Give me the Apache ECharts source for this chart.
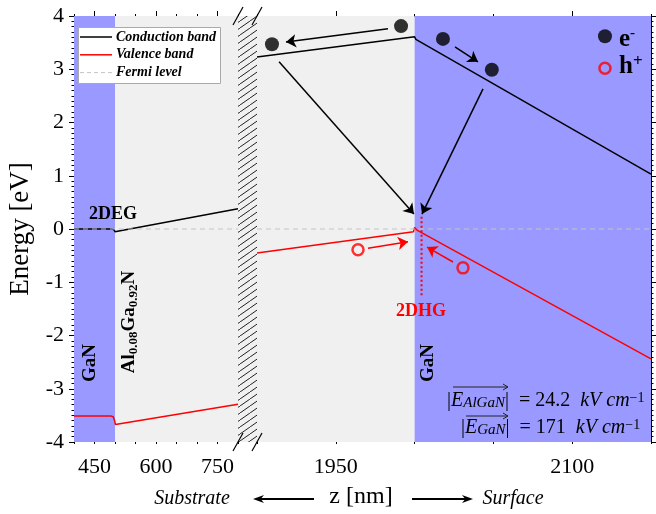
<!DOCTYPE html>
<html><head><meta charset="utf-8">
<script src="https://cdn.jsdelivr.net/npm/echarts@6/dist/echarts.min.js"></script>
<style>html,body{margin:0;padding:0;background:#fff}#c{width:656px;height:514px}</style>
</head><body><div id="c"></div>
<script>
// ---- data (z in nm, E in eV) ----
const leftRegions = [[400, 500, 'GaN'], [500, 800, 'AlGaN']];
const rightRegions = [[1900, 2000, 'AlGaN'], [2000, 2150, 'GaN']];
const condLeft = [[400, 0], [490, 0], [497, -0.01], [500, -0.05], [503, -0.03], [800, 0.38]];
const valLeft = [[400, -3.51], [490, -3.51], [496, -3.53], [499, -3.6], [501, -3.67], [800, -3.29]];
const fermiLeft = [[400, 0], [800, 0]];
const condRight = [[1900, 3.23], [2000, 3.61], [2000.8, 3.56], [2150, 1.03]];
const valRight = [[1900, -0.45], [1999.3, -0.05], [2000, 0.03], [2001.5, -0.02], [2150, -2.44]];
const fermiRight = [[1900, 0], [2150, 0]];
const dhgLine = [[2004.4, 0.23], [2004.4, -1.25]];
const electrons = [[1909.5, 3.47], [1991.4, 3.81], [2018, 3.57], [2049, 2.99]];
const holes = [[1964.1, -0.39], [2030.7, -0.73]];
const electronArrows = [
  [[1983.1, 3.76], [1918.4, 3.51]],
  [[2025.6, 3.42], [2040.2, 3.14]],
  [[1914, 3.14], [1999.6, 0.28]],
  [[2043.4, 2.63], [2004.7, 0.28]]
];
const holeArrows = [
  [[1970.4, -0.36], [1995.8, -0.24]],
  [[2024.4, -0.62], [2007.9, -0.34]]
];
const carrierKey = [[2120.8, 3.62], [2120.8, 3.02]];
const leftMajorTicks = [450, 600, 750];
const rightMajorTicks = [1950, 2100];
const legendNames = ['Conduction band', 'Valence band', 'Fermi level'];
const fieldAlGaN = '24.2';
const fieldGaN = '171';

// ---- styling ----
const SERIF = "'Liberation Serif','Times New Roman',serif";
const regionColor = { GaN: '#9999ff', AlGaN: '#f0f0f0' };
const GL = { left: 74, top: 16, width: 164, height: 426 };
const GR = { left: 257, top: 16, width: 394, height: 426 };
const FERMI = '#c4c4c4';

function hatchCanvas() {
  const c = document.createElement('canvas');
  c.width = 10; c.height = 7;
  const g = c.getContext('2d');
  g.fillStyle = '#f0f0f0'; g.fillRect(0, 0, 10, 7);
  g.strokeStyle = '#222'; g.lineWidth = 1;
  g.beginPath();
  g.moveTo(0, 7); g.lineTo(10, 0);
  g.moveTo(-10, 7); g.lineTo(0, 0);
  g.moveTo(10, 7); g.lineTo(20, 0);
  g.stroke();
  return c;
}

function xAxes(gi, min, max, major) {
  const common = { gridIndex: gi, type: 'value', min: min, max: max, splitLine: { show: false } };
  const line = { show: true, lineStyle: { color: '#000', width: 1 } };
  return [
    Object.assign({}, common, { position: 'bottom', axisLine: line,
      axisTick: { show: true, customValues: major, length: 5, lineStyle: { color: '#000' } },
      axisLabel: { show: true, customValues: major, formatter: v => String(v), fontFamily: SERIF, fontSize: 22, color: '#000', margin: 14 } }),
    Object.assign({}, common, { position: 'bottom', interval: 50, axisLine: { show: false },
      axisTick: { show: true, length: 2, lineStyle: { color: '#000' } }, axisLabel: { show: false } }),
    Object.assign({}, common, { position: 'top', axisLine: line,
      axisTick: { show: true, customValues: major, length: 5, lineStyle: { color: '#000' } },
      axisLabel: { show: false } }),
    Object.assign({}, common, { position: 'top', interval: 50, axisLine: { show: false },
      axisTick: { show: true, length: 2, lineStyle: { color: '#000' } }, axisLabel: { show: false } })
  ];
}

function regionArea(regs) {
  return {
    silent: true,
    data: regs.map(r => [{ xAxis: r[0], itemStyle: { color: regionColor[r[2]] } }, { xAxis: r[1] }])
  };
}

const bandLine = (name, data, xi, yi, color, extra) => Object.assign({
  name: name, type: 'line', xAxisIndex: xi, yAxisIndex: yi, data: data,
  symbol: 'none', showSymbol: false, z: 3, animation: false,
  lineStyle: { color: color, width: 1.5 }, itemStyle: { color: color }
}, extra || {});

const fermiStyle = { lineStyle: { color: FERMI, width: 1, type: [5, 4] }, itemStyle: { color: FERMI }, z: 4 };

const subRich = {
  b: { fontFamily: SERIF, fontWeight: 'bold', fontSize: 19, lineHeight: 22, color: '#000' },
  s: { fontFamily: SERIF, fontWeight: 'bold', fontSize: 13, lineHeight: 12, verticalAlign: 'bottom', color: '#000' }
};

function txt(x, y, text, o) {
  o = o || {};
  return {
    type: 'text', x: x, y: y, rotation: o.rot || 0, z: 100,
    style: Object.assign({
      text: text, fill: o.color || '#000', fontFamily: SERIF,
      fontSize: o.size || 18, fontWeight: o.weight || 'normal', fontStyle: o.style || 'normal',
      align: o.align || 'center', verticalAlign: 'middle'
    }, o.rich ? { rich: o.rich } : {})
  };
}
function arrowG(x1, y1, x2, y2, w) {
  const dir = Math.sign(x2 - x1);
  const hl = 11, hw = 4;
  return [
    { type: 'line', z: 100, shape: { x1: x1, y1: y1, x2: x2 - dir * hl * 0.6, y2: y2 }, style: { stroke: '#000', lineWidth: w || 2 } },
    { type: 'polygon', z: 100, shape: { points: [[x2, y2], [x2 - dir * hl, y2 - hw], [x2 - dir * hl * 0.7, y2], [x2 - dir * hl, y2 + hw]] }, style: { fill: '#000' } }
  ];
}
function vecArrow(x1, x2, y) {
  return [
    { type: 'line', z: 100, shape: { x1: x1, y1: y, x2: x2, y2: y }, style: { stroke: '#222', lineWidth: 1 } },
    { type: 'polyline', z: 100, shape: { points: [[x2 - 5, y - 3], [x2, y], [x2 - 5, y + 3]] }, style: { stroke: '#222', lineWidth: 1, fill: null } }
  ];
}
function slash(x, y) {
  return { type: 'line', z: 101, shape: { x1: x - 5, y1: y + 9, x2: x + 5, y2: y - 9 }, style: { stroke: '#000', lineWidth: 1.2 } };
}

// legend box drawn by hand
function legendBox() {
  const els = [{ type: 'rect', z: 90, shape: { x: 78.5, y: 27.5, width: 142, height: 56 },
    style: { fill: '#fff', stroke: '#aaa', lineWidth: 1 } }];
  const cols = ['#000', '#ff0000', FERMI];
  legendNames.forEach((n, i) => {
    const y = 37 + i * 17.8;
    els.push({ type: 'line', z: 91, shape: { x1: 80, y1: y, x2: 112, y2: y },
      style: { stroke: cols[i], lineWidth: i === 2 ? 1 : 1.5, lineDash: i === 2 ? [4, 3] : null } });
    els.push({ type: 'text', z: 91, x: 116, y: y, style: { text: n, fill: '#000', fontFamily: SERIF,
      fontSize: 14, fontWeight: 'bold', fontStyle: 'italic', align: 'left', verticalAlign: 'middle' } });
  });
  return els;
}

const mathRich = {
  n: { fontFamily: SERIF, fontSize: 20, color: '#222' },
  i: { fontFamily: SERIF, fontSize: 20, fontStyle: 'italic', color: '#222' },
  sub: { fontFamily: SERIF, fontSize: 15, fontStyle: 'italic', color: '#222', verticalAlign: 'bottom', lineHeight: 14 },
  sup: { fontFamily: SERIF, fontSize: 14, color: '#222', verticalAlign: 'top', lineHeight: 12 }
};

const chart = echarts.init(document.getElementById('c'), null, { renderer: 'canvas' });

const graphic = [
  { type: 'rect', z: 50, shape: { x: GL.left + GL.width, y: GL.top, width: GR.left - GL.left - GL.width, height: GL.height },
    style: { fill: { image: hatchCanvas(), repeat: 'repeat' } } },
  slash(238, 16), slash(257, 16), slash(238, 442), slash(257, 442),
  txt(113, 214, '2DEG', { weight: 'bold', size: 18 }),
  txt(90, 363, 'GaN', { weight: 'bold', size: 19, rot: Math.PI / 2 }),
  txt(428, 363, 'GaN', { weight: 'bold', size: 19, rot: Math.PI / 2 }),
  txt(129, 322, '{b|Al}{s|0.08}{b|Ga}{s|0.92}{b|N}', { rot: Math.PI / 2, rich: subRich, weight: 'bold', size: 19 }),
  txt(421, 311, '2DHG', { weight: 'bold', size: 18, color: '#ff0000' }),
  txt(619, 40, '{m|e}{p|-}', { align: 'left', rich: {
    m: { fontFamily: SERIF, fontWeight: 'bold', fontSize: 25, lineHeight: 28, color: '#000' },
    p: { fontFamily: SERIF, fontWeight: 'bold', fontSize: 15, lineHeight: 14, verticalAlign: 'top', color: '#000' } } }),
  txt(619, 67, '{m|h}{p|+}', { align: 'left', rich: {
    m: { fontFamily: SERIF, fontWeight: 'bold', fontSize: 25, lineHeight: 28, color: '#ff0000' },
    p: { fontFamily: SERIF, fontWeight: 'bold', fontSize: 17, lineHeight: 14, verticalAlign: 'top', color: '#ff0000' } } }),
  txt(447, 401, '{n||}{i|E}{sub|AlGaN}{n||}{n|  = ' + fieldAlGaN + '  }{i|kV cm}{sup|\u22121}', { align: 'left', rich: mathRich }),
  txt(461, 428, '{n||}{i|E}{sub|GaN}{n||}{n|  = ' + fieldGaN + '  }{i|kV cm}{sup|\u22121}', { align: 'left', rich: mathRich }),
  txt(192, 499, 'Substrate', { style: 'italic', size: 20 }),
  txt(513, 499, 'Surface', { style: 'italic', size: 20 }),
  txt(361, 497, 'z [nm]', { size: 24 })
].concat(arrowG(314, 499, 253, 499), arrowG(412, 499, 473, 499), legendBox());

const option = {
  animation: false,
  backgroundColor: '#fff',
  grid: [
    Object.assign({}, GL, { containLabel: false }),
    Object.assign({}, GR, { containLabel: false })
  ],
  xAxis: xAxes(0, 400, 800, leftMajorTicks).concat(xAxes(1, 1900, 2150, rightMajorTicks)),
  yAxis: [
    { gridIndex: 0, type: 'value', min: -4, max: 4, interval: 1, position: 'left',
      axisLine: { show: true, lineStyle: { color: '#000' } },
      axisTick: { show: true, length: 5, lineStyle: { color: '#000' } },
      minorTick: { show: true, splitNumber: 10, length: 2.5, lineStyle: { color: '#000' } },
      splitLine: { show: false },
      axisLabel: { fontFamily: SERIF, fontSize: 22, color: '#000', margin: 10 },
      name: 'Energy [eV]', nameLocation: 'middle', nameGap: 40, nameRotate: 90,
      nameTextStyle: { fontFamily: SERIF, fontSize: 27, color: '#000' } },
    { gridIndex: 1, type: 'value', min: -4, max: 4, interval: 1, position: 'right',
      axisLine: { show: true, lineStyle: { color: '#000' } },
      axisTick: { show: true, length: 5, lineStyle: { color: '#000' } },
      minorTick: { show: true, splitNumber: 10, length: 2.5, lineStyle: { color: '#000' } },
      splitLine: { show: false }, axisLabel: { show: false } }
  ],
  series: [
    { type: 'line', xAxisIndex: 0, yAxisIndex: 0, data: [], z: 0, silent: true, markArea: regionArea(leftRegions) },
    { type: 'line', xAxisIndex: 4, yAxisIndex: 1, data: [], z: 0, silent: true, markArea: regionArea(rightRegions) },
    bandLine(legendNames[0], condLeft, 0, 0, '#000'),
    bandLine(legendNames[1], valLeft, 0, 0, '#ff0000'),
    bandLine(legendNames[2], fermiLeft, 0, 0, FERMI, fermiStyle),
    bandLine(legendNames[0], condRight, 4, 1, '#000'),
    bandLine(legendNames[1], valRight, 4, 1, '#ff0000'),
    bandLine(legendNames[2], fermiRight, 4, 1, FERMI, fermiStyle),
    { type: 'line', xAxisIndex: 4, yAxisIndex: 1, data: dhgLine, symbol: 'none', z: 5,
      lineStyle: { color: '#ff0000', width: 2, type: [2, 2.5] } },
    { type: 'scatter', xAxisIndex: 4, yAxisIndex: 1, data: electrons, symbol: 'circle', symbolSize: 14,
      itemStyle: { color: '#000' }, z: 6 },
    { type: 'scatter', xAxisIndex: 4, yAxisIndex: 1, data: holes, symbol: 'circle', symbolSize: 11,
      itemStyle: { color: 'rgba(0,0,0,0)', borderColor: '#ff0000', borderWidth: 2.5 }, z: 6 },
    { type: 'scatter', xAxisIndex: 4, yAxisIndex: 1, z: 6, symbol: 'circle',
      data: [
        { value: carrierKey[0], symbolSize: 14, itemStyle: { color: '#000' } },
        { value: carrierKey[1], symbolSize: 11, itemStyle: { color: 'rgba(0,0,0,0)', borderColor: '#ff0000', borderWidth: 2.5 } }
      ] },
    { type: 'lines', coordinateSystem: 'cartesian2d', xAxisIndex: 4, yAxisIndex: 1, z: 6,
      symbol: ['none', 'arrow'], symbolSize: 10,
      lineStyle: { color: '#000', width: 1.5, opacity: 1 },
      data: electronArrows.map(c => ({ coords: c })) },
    { type: 'lines', coordinateSystem: 'cartesian2d', xAxisIndex: 4, yAxisIndex: 1, z: 6,
      symbol: ['none', 'arrow'], symbolSize: 10,
      lineStyle: { color: '#ff0000', width: 1.5, opacity: 1 },
      data: holeArrows.map(c => ({ coords: c })) }
  ],
  graphic: graphic.concat(vecArrow(453, 508, 387), vecArrow(466, 508, 416))
};
chart.setOption(option);
</script>
</body></html>
